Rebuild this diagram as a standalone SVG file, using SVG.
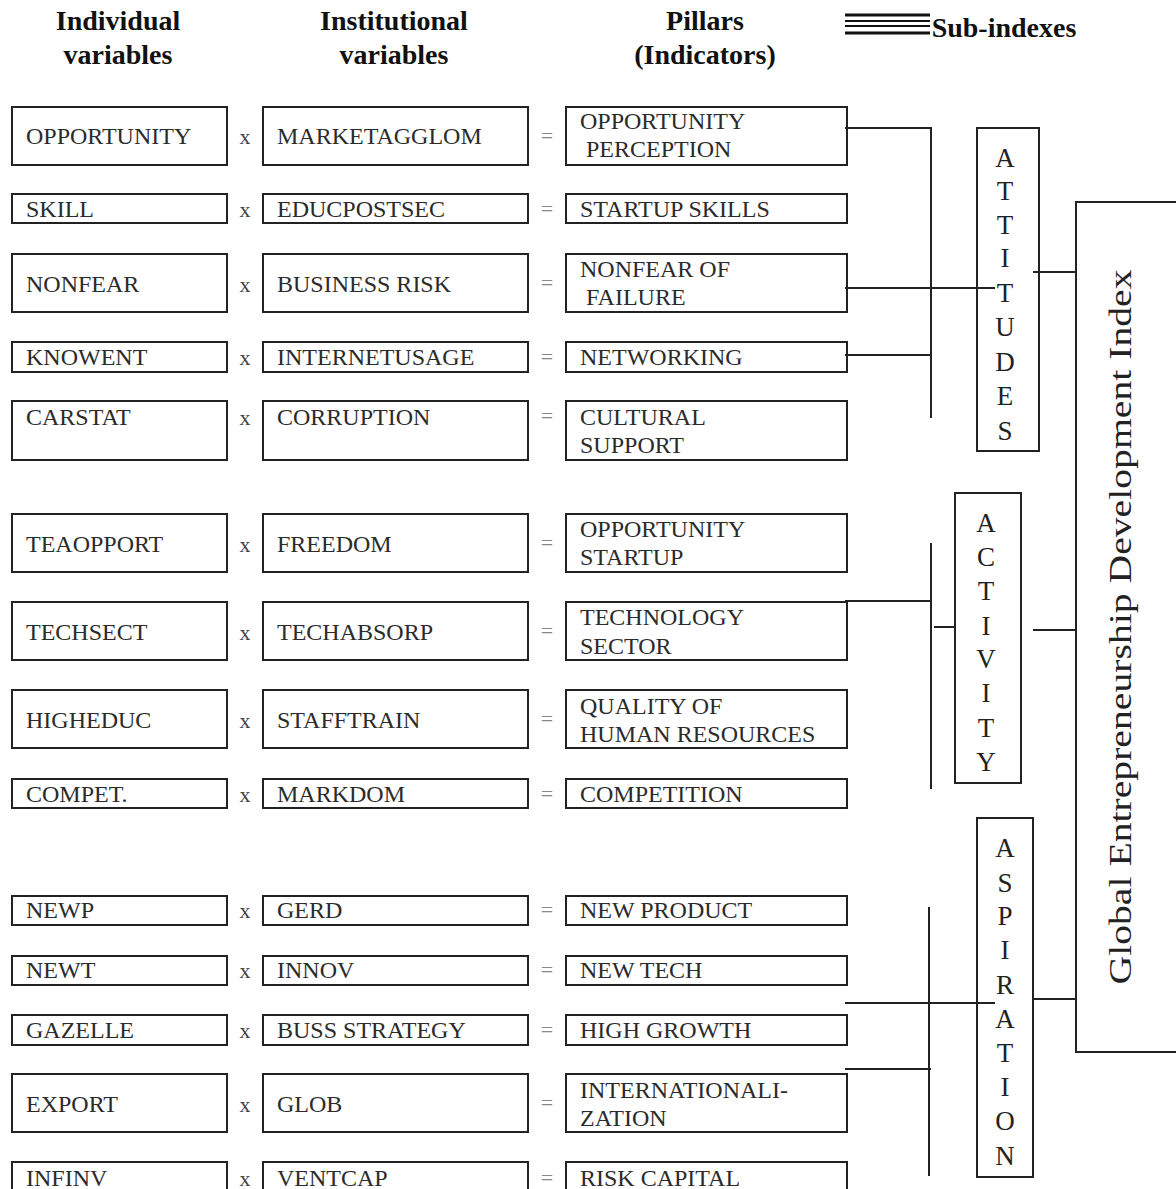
<svg xmlns="http://www.w3.org/2000/svg" width="1176" height="1189" viewBox="0 0 1176 1189">
<style>
.box{fill:#fff;stroke:#222;stroke-width:2}
.t{font-family:"Liberation Serif","Times New Roman",serif;font-size:24px;fill:#2b2b2b}
.op{font-family:"Liberation Serif","Times New Roman",serif;font-size:22px;fill:#444;text-anchor:middle}
.eq{font-family:"Liberation Serif","Times New Roman",serif;font-size:22px;fill:#888;text-anchor:middle}
.h{font-family:"Liberation Serif","Times New Roman",serif;font-size:28px;font-weight:bold;fill:#111;text-anchor:middle}
.sl{font-family:"Liberation Serif","Times New Roman",serif;font-size:27px;fill:#222;text-anchor:middle}
.ln{stroke:#222;stroke-width:2;fill:none}
</style>
<rect width="1176" height="1189" fill="#fff"/>
<g id="headers">
<text class="h" x="118" y="30">Individual</text>
<text class="h" x="118" y="64">variables</text>
<text class="h" x="394" y="30">Institutional</text>
<text class="h" x="394" y="64">variables</text>
<text class="h" x="705" y="30">Pillars</text>
<text class="h" x="705" y="64">(Indicators)</text>
<g stroke="#111">
<line x1="845" y1="15" x2="930" y2="15" stroke-width="3"/>
<line x1="845" y1="21" x2="930" y2="21" stroke-width="2"/>
<line x1="845" y1="26" x2="930" y2="26" stroke-width="2"/>
<line x1="845" y1="33" x2="930" y2="33" stroke-width="3"/>
</g>
<text class="h" x="1004" y="37">Sub-indexes</text>
</g>
<g id="row1">
<g id="n-opportunity"><rect class="box" x="12" y="107" width="215" height="58"/><text class="t" x="26" y="144">OPPORTUNITY</text></g>
<text class="op" x="245" y="144">x</text>
<g id="n-marketagglom"><rect class="box" x="263" y="107" width="265" height="58"/><text class="t" x="277" y="144">MARKETAGGLOM</text></g>
<text class="eq" x="547" y="143">=</text>
<g id="p-opportunity-perception"><rect class="box" x="566" y="107" width="281" height="58"/><text class="t" x="580" y="129">OPPORTUNITY</text><text class="t" x="586" y="157">PERCEPTION</text></g>
</g>
<g id="row2">
<g id="n-skill"><rect class="box" x="12" y="194" width="215" height="29"/><text class="t" x="26" y="217">SKILL</text></g>
<text class="op" x="245" y="217">x</text>
<g id="n-educpostsec"><rect class="box" x="263" y="194" width="265" height="29"/><text class="t" x="277" y="217">EDUCPOSTSEC</text></g>
<text class="eq" x="547" y="216">=</text>
<g id="p-startup-skills"><rect class="box" x="566" y="194" width="281" height="29"/><text class="t" x="580" y="217">STARTUP SKILLS</text></g>
</g>
<g id="row3">
<g id="n-nonfear"><rect class="box" x="12" y="254" width="215" height="58"/><text class="t" x="26" y="292">NONFEAR</text></g>
<text class="op" x="245" y="292">x</text>
<g id="n-business-risk"><rect class="box" x="263" y="254" width="265" height="58"/><text class="t" x="277" y="292">BUSINESS RISK</text></g>
<text class="eq" x="547" y="290">=</text>
<g id="p-nonfear-of-failure"><rect class="box" x="566" y="254" width="281" height="58"/><text class="t" x="580" y="277">NONFEAR OF</text><text class="t" x="586" y="305">FAILURE</text></g>
</g>
<g id="row4">
<g id="n-knowent"><rect class="box" x="12" y="342" width="215" height="30"/><text class="t" x="26" y="365">KNOWENT</text></g>
<text class="op" x="245" y="365">x</text>
<g id="n-internetusage"><rect class="box" x="263" y="342" width="265" height="30"/><text class="t" x="277" y="365">INTERNETUSAGE</text></g>
<text class="eq" x="547" y="364">=</text>
<g id="p-networking"><rect class="box" x="566" y="342" width="281" height="30"/><text class="t" x="580" y="365">NETWORKING</text></g>
</g>
<g id="row5">
<g id="n-carstat"><rect class="box" x="12" y="401" width="215" height="59"/><text class="t" x="26" y="425">CARSTAT</text></g>
<text class="op" x="245" y="425">x</text>
<g id="n-corruption"><rect class="box" x="263" y="401" width="265" height="59"/><text class="t" x="277" y="425">CORRUPTION</text></g>
<text class="eq" x="547" y="423">=</text>
<g id="p-cultural-support"><rect class="box" x="566" y="401" width="281" height="59"/><text class="t" x="580" y="425">CULTURAL</text><text class="t" x="580" y="453">SUPPORT</text></g>
</g>
<g id="row6">
<g id="n-teaopport"><rect class="box" x="12" y="514" width="215" height="58"/><text class="t" x="26" y="552">TEAOPPORT</text></g>
<text class="op" x="245" y="552">x</text>
<g id="n-freedom"><rect class="box" x="263" y="514" width="265" height="58"/><text class="t" x="277" y="552">FREEDOM</text></g>
<text class="eq" x="547" y="550">=</text>
<g id="p-opportunity-startup"><rect class="box" x="566" y="514" width="281" height="58"/><text class="t" x="580" y="537">OPPORTUNITY</text><text class="t" x="580" y="565">STARTUP</text></g>
</g>
<g id="row7">
<g id="n-techsect"><rect class="box" x="12" y="602" width="215" height="58"/><text class="t" x="26" y="640">TECHSECT</text></g>
<text class="op" x="245" y="640">x</text>
<g id="n-techabsorp"><rect class="box" x="263" y="602" width="265" height="58"/><text class="t" x="277" y="640">TECHABSORP</text></g>
<text class="eq" x="547" y="638">=</text>
<g id="p-technology-sector"><rect class="box" x="566" y="602" width="281" height="58"/><text class="t" x="580" y="625">TECHNOLOGY</text><text class="t" x="580" y="654">SECTOR</text></g>
</g>
<g id="row8">
<g id="n-higheduc"><rect class="box" x="12" y="690" width="215" height="58"/><text class="t" x="26" y="728">HIGHEDUC</text></g>
<text class="op" x="245" y="728">x</text>
<g id="n-stafftrain"><rect class="box" x="263" y="690" width="265" height="58"/><text class="t" x="277" y="728">STAFFTRAIN</text></g>
<text class="eq" x="547" y="726">=</text>
<g id="p-quality-hr"><rect class="box" x="566" y="690" width="281" height="58"/><text class="t" x="580" y="714">QUALITY OF</text><text class="t" x="580" y="742">HUMAN RESOURCES</text></g>
</g>
<g id="row9">
<g id="n-compet"><rect class="box" x="12" y="779" width="215" height="29"/><text class="t" x="26" y="802">COMPET.</text></g>
<text class="op" x="245" y="802">x</text>
<g id="n-markdom"><rect class="box" x="263" y="779" width="265" height="29"/><text class="t" x="277" y="802">MARKDOM</text></g>
<text class="eq" x="547" y="801">=</text>
<g id="p-competition"><rect class="box" x="566" y="779" width="281" height="29"/><text class="t" x="580" y="802">COMPETITION</text></g>
</g>
<g id="row10">
<g id="n-newp"><rect class="box" x="12" y="896" width="215" height="29"/><text class="t" x="26" y="918">NEWP</text></g>
<text class="op" x="245" y="918">x</text>
<g id="n-gerd"><rect class="box" x="263" y="896" width="265" height="29"/><text class="t" x="277" y="918">GERD</text></g>
<text class="eq" x="547" y="917">=</text>
<g id="p-new-product"><rect class="box" x="566" y="896" width="281" height="29"/><text class="t" x="580" y="918">NEW PRODUCT</text></g>
</g>
<g id="row11">
<g id="n-newt"><rect class="box" x="12" y="956" width="215" height="29"/><text class="t" x="26" y="978">NEWT</text></g>
<text class="op" x="245" y="978">x</text>
<g id="n-innov"><rect class="box" x="263" y="956" width="265" height="29"/><text class="t" x="277" y="978">INNOV</text></g>
<text class="eq" x="547" y="977">=</text>
<g id="p-new-tech"><rect class="box" x="566" y="956" width="281" height="29"/><text class="t" x="580" y="978">NEW TECH</text></g>
</g>
<g id="row12">
<g id="n-gazelle"><rect class="box" x="12" y="1015" width="215" height="30"/><text class="t" x="26" y="1038">GAZELLE</text></g>
<text class="op" x="245" y="1038">x</text>
<g id="n-buss-strategy"><rect class="box" x="263" y="1015" width="265" height="30"/><text class="t" x="277" y="1038">BUSS STRATEGY</text></g>
<text class="eq" x="547" y="1037">=</text>
<g id="p-high-growth"><rect class="box" x="566" y="1015" width="281" height="30"/><text class="t" x="580" y="1038">HIGH GROWTH</text></g>
</g>
<g id="row13">
<g id="n-export"><rect class="box" x="12" y="1074" width="215" height="58"/><text class="t" x="26" y="1112">EXPORT</text></g>
<text class="op" x="245" y="1112">x</text>
<g id="n-glob"><rect class="box" x="263" y="1074" width="265" height="58"/><text class="t" x="277" y="1112">GLOB</text></g>
<text class="eq" x="547" y="1110">=</text>
<g id="p-internationalization"><rect class="box" x="566" y="1074" width="281" height="58"/><text class="t" x="580" y="1098">INTERNATIONALI-</text><text class="t" x="580" y="1126">ZATION</text></g>
</g>
<g id="row14">
<g id="n-infinv"><rect class="box" x="12" y="1162" width="215" height="40"/><text class="t" x="26" y="1186">INFINV</text></g>
<text class="op" x="245" y="1186">x</text>
<g id="n-ventcap"><rect class="box" x="263" y="1162" width="265" height="40"/><text class="t" x="277" y="1186">VENTCAP</text></g>
<text class="eq" x="547" y="1185">=</text>
<g id="p-risk-capital"><rect class="box" x="566" y="1162" width="281" height="40"/><text class="t" x="580" y="1186">RISK CAPITAL</text></g>
</g>
<g id="s-attitudes">
<rect class="box" x="977" y="128" width="62" height="323"/>
<text class="sl" x="1005" y="167">A</text>
<text class="sl" x="1005" y="200">T</text>
<text class="sl" x="1005" y="234">T</text>
<text class="sl" x="1005" y="267">I</text>
<text class="sl" x="1005" y="302">T</text>
<text class="sl" x="1005" y="336">U</text>
<text class="sl" x="1005" y="371">D</text>
<text class="sl" x="1005" y="405">E</text>
<text class="sl" x="1005" y="440">S</text>
</g>
<g id="s-activity">
<rect class="box" x="955" y="493" width="66" height="290"/>
<text class="sl" x="986" y="532">A</text>
<text class="sl" x="986" y="566">C</text>
<text class="sl" x="986" y="600">T</text>
<text class="sl" x="986" y="635">I</text>
<text class="sl" x="986" y="668">V</text>
<text class="sl" x="986" y="702">I</text>
<text class="sl" x="986" y="737">T</text>
<text class="sl" x="986" y="771">Y</text>
</g>
<g id="s-aspiration">
<rect class="box" x="977" y="818" width="56" height="359"/>
<text class="sl" x="1005" y="857">A</text>
<text class="sl" x="1005" y="892">S</text>
<text class="sl" x="1005" y="925">P</text>
<text class="sl" x="1005" y="959">I</text>
<text class="sl" x="1005" y="994">R</text>
<text class="sl" x="1005" y="1028">A</text>
<text class="sl" x="1005" y="1062">T</text>
<text class="sl" x="1005" y="1096">I</text>
<text class="sl" x="1005" y="1130">O</text>
<text class="sl" x="1005" y="1165">N</text>
</g>
<g id="gedi">
<rect class="box" x="1076" y="202" width="110" height="850"/>
<text font-family="Liberation Serif, Times New Roman, serif" font-size="32" fill="#222" text-anchor="middle" transform="translate(1131 627) rotate(-90)" textLength="715" lengthAdjust="spacingAndGlyphs">Global Entrepreneurship Development Index</text>
</g>
<g id="connectors">
<path class="ln" d="M845 128H931V418M845 288H995M845 355H931M1033 272H1077"/>
<path class="ln" d="M931 543V789M845 601H931M934 627H955M1033 630H1077"/>
<path class="ln" d="M929 907V1176M845 1003H995M845 1069H931M1033 999H1077"/>
</g>
</svg>
